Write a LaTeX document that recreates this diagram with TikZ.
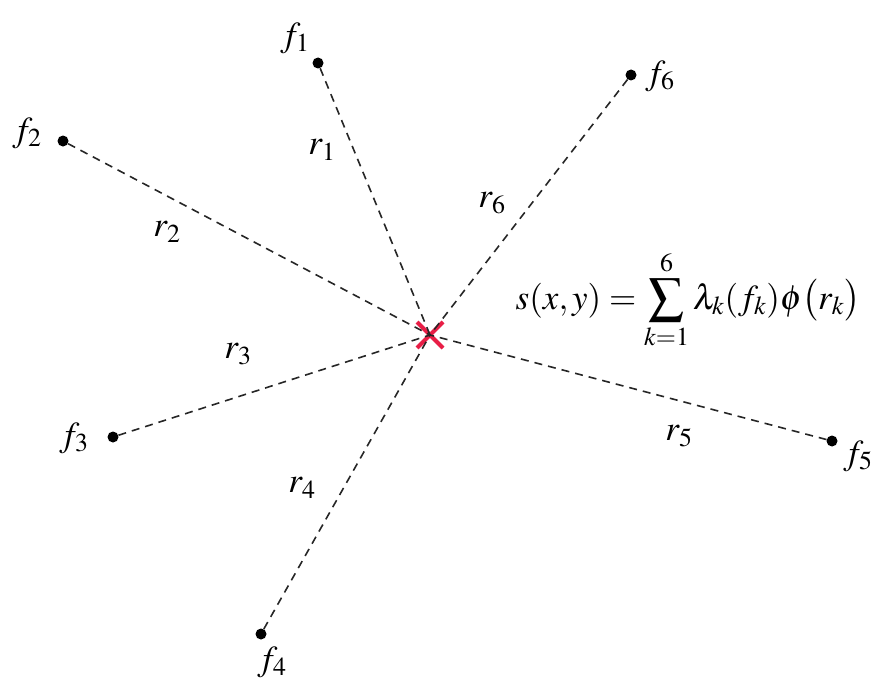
\documentclass[tikz,border=0pt]{standalone}
\usepackage{mathptmx}
\usetikzlibrary{shapes.misc}
\definecolor{xred}{RGB}{232,30,70}
\begin{document}
\begin{tikzpicture}[x=1pt,y=-1pt,
  pt/.style={circle,fill=black,inner sep=0pt,minimum size=11pt},
  link/.style={dash pattern=on 8pt off 6pt,line width=1.6pt,black!85},
  lab/.style={font=\fontsize{35}{40}\selectfont,inner sep=0pt}
]
\useasboundingbox (0,0) rectangle (877,690);
\node[cross out,draw=xred,line width=4pt,minimum size=22pt,inner sep=0pt] (s) at (430,335) {};
% data points
\node[pt] (f1) at (318,63) {};
\node[pt] (f2) at (63,141) {};
\node[pt] (f3) at (113,437) {};
\node[pt] (f4) at (261,634) {};
\node[pt] (f5) at (832,441) {};
\node[pt] (f6) at (631,75) {};
\foreach \i in {1,...,6}
  \draw[link] (f\i) -- (s.center);
% labels
\node[lab] (l1) at (295,38) {$f_1$};
\node[lab] (l2) at (27,133) {$f_2$};
\node[lab] (l3) at (74,438) {$f_3$};
\node[lab] (l4) at (272,662) {$f_4$};
\node[lab] (l5) at (858,456) {$f_5$};
\node[lab] (l6) at (660,76) {$f_6$};
\node[lab] (r1) at (322,150) {$r_1$};
\node[lab] (r2) at (167,232) {$r_2$};
\node[lab] (r3) at (238,354) {$r_3$};
\node[lab] (r4) at (302,488) {$r_4$};
\node[lab] (r5) at (679,436) {$r_5$};
\node[lab] (r6) at (492,203) {$r_6$};
\node[lab] (eq) at (688,300) {$\displaystyle s(x,y)=\sum_{k=1}^{6}\lambda_k(f_k)\phi\bigl(r_k\bigr)$};
\end{tikzpicture}
\end{document}
